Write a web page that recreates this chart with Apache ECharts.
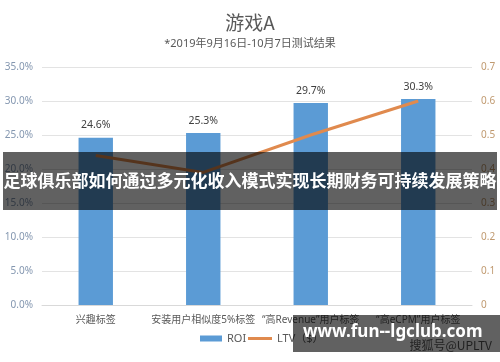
<!DOCTYPE html>
<html><head><meta charset="utf-8">
<script src="https://cdn.jsdelivr.net/npm/echarts@6/dist/echarts.min.js"></script>
<style>html,body{margin:0;padding:0;background:#fff}#c{width:500px;height:362px}</style>
</head><body><div id="c"></div>
<script>
const categories = ['兴趣标签', '安装用户相似度5%标签', '“高Revenue”用户标签', '“高eCPM”用户标签'];
const roiValues = [24.6, 25.3, 29.7, 30.3];
const ltvValues = [0.44, 0.39, 0.50, 0.60];
const leftTicks = [0, 5, 10, 15, 20, 25, 30, 35];
const rightTicks = [0, 0.1, 0.2, 0.3, 0.4, 0.5, 0.6, 0.7];
const titleText = '游戏A';
const subtitleText = '*2019年9月16日-10月7日测试结果';
const bannerText = '足球俱乐部如何通过多元化收入模式实现长期财务可持续发展策略';
const siteText = 'www.fun--lgclub.com';
const sourceText = '搜狐号@UPLTV';

const font = '"Noto Sans", "Noto Sans CJK SC", sans-serif';
const cjk = '"Noto Sans CJK SC", sans-serif';
const chart = echarts.init(document.getElementById('c'), null, {renderer: 'canvas'});
chart.setOption({
  animation: false,
  backgroundColor: '#fff',
  textStyle: {fontFamily: font},
  title: {
    text: titleText, subtext: subtitleText, left: 'center', top: 8, itemGap: 6,
    textStyle: {fontSize: 19, fontWeight: 'normal', color: '#595959', fontFamily: cjk},
    subtextStyle: {fontSize: 11, color: '#595959', fontFamily: font}
  },
  grid: {left: 42, right: 28, top: 67, bottom: 57, containLabel: false},
  legend: [
    {left: 195, bottom: 13, itemWidth: 22, itemHeight: 6, itemGap: 5,
     textStyle: {fontSize: 11, color: '#595959', fontFamily: font},
     data: [{name: 'ROI', icon: 'rect'}]},
    {left: 243, bottom: 13, itemWidth: 24, itemHeight: 3, itemGap: 5,
     textStyle: {fontSize: 11, color: '#595959', fontFamily: font},
     data: [{name: 'LTV（$）', icon: 'rect'}]}
  ],
  xAxis: {
    type: 'category', data: categories,
    axisLine: {show: true, lineStyle: {color: '#d9d9d9'}},
    axisTick: {show: false},
    axisLabel: {color: '#595959', fontSize: 10, margin: 10, interval: 0, fontFamily: font}
  },
  yAxis: [
    {type: 'value', min: 0, max: 35, interval: 5,
     axisLine: {show: false}, axisTick: {show: false},
     splitLine: {lineStyle: {color: '#e3e3e3'}},
     axisLabel: {color: '#8497b0', fontSize: 10, margin: 9, formatter: v => v.toFixed(1) + '%', fontFamily: font}},
    {type: 'value', min: 0, max: 0.7, interval: 0.1,
     axisLine: {show: false}, axisTick: {show: false}, splitLine: {show: false},
     axisLabel: {color: '#c09a70', fontSize: 10, margin: 9, formatter: v => (Math.round(v * 10) / 10).toString(), fontFamily: font}}
  ],
  series: [
    {name: 'ROI', type: 'bar', data: roiValues, barWidth: '32%',
     itemStyle: {color: '#5b9bd5'},
     label: {show: true, position: 'top', distance: 7, color: '#404040', fontSize: 10.5, formatter: p => p.value.toFixed(1) + '%', fontFamily: font}},
    {name: 'LTV（$）', type: 'line', yAxisIndex: 1, data: ltvValues, symbol: 'none',
     lineStyle: {color: '#e08a4e', width: 3}, itemStyle: {color: '#e08a4e'}}
  ],
  graphic: [
    {type: 'rect', left: 3, top: 152, shape: {width: 494, height: 58}, style: {fill: 'rgba(0,0,0,0.62)'}, z: 100},
    {type: 'text', left: 'center', top: 172, style: {text: bannerText, fill: '#fff', font: 'bold 17px ' + cjk}, z: 101},
    {type: 'rect', left: 293, top: 315, shape: {width: 207, height: 37}, style: {fill: 'rgba(0,0,0,0.62)'}, z: 100},
    {type: 'text', left: 303, top: 324, style: {text: siteText, fill: '#fff', font: 'bold 17px "Noto Sans", sans-serif'}, z: 101},
    {type: 'text', right: 8, top: 339, style: {text: sourceText, fill: 'rgba(20,20,20,0.85)', font: '12px ' + cjk}, z: 102}
  ]
});
</script></body></html>
